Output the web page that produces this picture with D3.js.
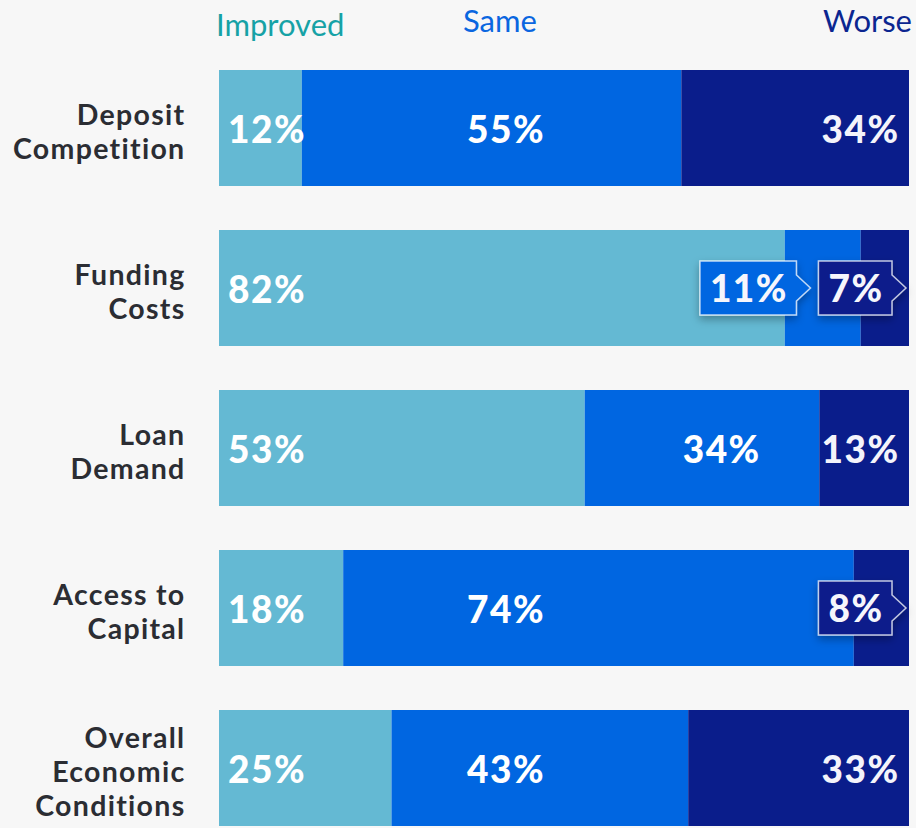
<!DOCTYPE html>
<html>
<head>
<meta charset="utf-8">
<script src="https://cdn.jsdelivr.net/npm/d3@7"></script>
<style>
  html, body { margin: 0; padding: 0; background: #f7f7f7; }
  svg { display: block; }
  text { font-family: Lato, "Open Sans", sans-serif; }
</style>
</head>
<body>
<svg id="chart" width="916" height="828"></svg>
<script>
// ---- data ----
const categories = ["Deposit\nCompetition", "Funding\nCosts", "Loan\nDemand", "Access to\nCapital", "Overall\nEconomic\nConditions"];
const seriesNames = ["Improved", "Same", "Worse"];
const improved = [12, 82, 53, 18, 25];
const same     = [55, 11, 34, 74, 43];
const worse    = [34,  7, 13,  8, 33];

// ---- styling ----
const W = 916, H = 828;
const barColors    = { Improved: "#64b9d3", Same: "#0066e1", Worse: "#0a1d8b" };
const legendColors = { Improved: "#16a2a6", Same: "#0a66e0", Worse: "#0b2690" };

const svg = d3.select("#chart");
svg.append("rect").attr("width", W).attr("height", H).attr("fill", "#f7f7f7");

const defs = svg.append("defs");
const f = defs.append("filter").attr("id", "shadow")
  .attr("x", "-30%").attr("y", "-30%").attr("width", "160%").attr("height", "170%");
f.append("feDropShadow").attr("dx", 0).attr("dy", 4).attr("stdDeviation", 4)
  .attr("flood-color", "#000").attr("flood-opacity", 0.3);

const rows = categories.map((c, i) => ({ cat: c, Improved: improved[i], Same: same[i], Worse: worse[i] }));

const x = d3.scaleLinear().domain([0, 100]).range([219, 909]);
const y = d3.scaleBand().domain(categories).range([70, 826]).paddingInner(0.275).paddingOuter(0);

const stacked = d3.stack().keys(seriesNames)(rows);
const xc = v => x(Math.min(v, 100));

// bars
const layers = svg.append("g").selectAll("g").data(stacked).join("g")
  .attr("fill", d => barColors[d.key]);
layers.selectAll("rect").data(d => d.map(s => ({ key: d.key, s }))).join("rect")
  .attr("x", d => xc(d.s[0]))
  .attr("y", d => y(d.s.data.cat))
  .attr("width", d => Math.max(0, xc(d.s[1]) - xc(d.s[0])))
  .attr("height", y.bandwidth());

// category labels
const catG = svg.append("g");
categories.forEach(c => {
  const lines = c.split("\n");
  const cy = y(c) + y.bandwidth() / 2;
  const t = catG.append("text")
    .attr("text-anchor", "end")
    .attr("font-size", 28.5)
    .attr("font-weight", 700)
    .attr("letter-spacing", 1.3)
    .attr("fill", "#2b2d33");
  lines.forEach((ln, k) => {
    t.append("tspan").attr("x", 185.5)
      .attr("y", cy - (lines.length - 1) * 34 / 2 + 14 + k * 34)
      .text(ln);
  });
});

// legend headers
const legG = svg.append("g").attr("font-size", 31).attr("font-weight", 400);
legG.append("text").attr("x", 216).attr("y", 36).attr("fill", legendColors.Improved).text("Improved");
legG.append("text").attr("x", 463).attr("y", 32).attr("fill", legendColors.Same).text("Same");
legG.append("text").attr("x", 912).attr("y", 32).attr("text-anchor", "end").attr("fill", legendColors.Worse).text("Worse");

// value labels
const labG = svg.append("g");
const fs = 37;
const ls = 1.5;
const fw = 900;
const sameCol = 467;
const calloutMin = 80;

function valueText(sel) {
  return sel.attr("font-size", fs).attr("font-weight", fw).attr("letter-spacing", ls);
}

function callout(rightX, cy, label, fill) {
  const g = labG.append("g");
  const t = valueText(g.append("text")).attr("fill", "#f6f6fc").attr("y", cy + 14).text(label);
  const tw = t.node().getComputedTextLength() - ls;
  const pad = 10;
  const L = rightX - tw - 2 * pad, R = rightX, T = cy - 27, B = cy + 27;
  const path = `M${L},${T}H${R}V${cy - 13}L${R + 14},${cy}L${R},${cy + 13}V${B}H${L}Z`;
  g.insert("path", "text").attr("d", path).attr("fill", fill)
    .attr("stroke", "rgba(255,255,255,0.75)").attr("stroke-width", 1.5)
    .attr("filter", "url(#shadow)");
  t.attr("x", L + pad);
  return L;
}

rows.forEach((r, i) => {
  const cy = y(r.cat) + y.bandwidth() / 2;
  const sImp = stacked[0][i], sSame = stacked[1][i], sWorse = stacked[2][i];
  // Improved
  valueText(labG.append("text")).attr("x", xc(sImp[0]) + 9).attr("y", cy + 15)
    .attr("fill", "#ffffff").text(r.Improved + "%");
  // Worse
  let worseLeft = null;
  const worseW = xc(sWorse[1]) - xc(sWorse[0]);
  if (worseW < calloutMin) {
    worseLeft = callout(x(100) - 17, cy, r.Worse + "%", barColors.Worse);
  } else {
    valueText(labG.append("text")).attr("x", x(100) - 11 + ls).attr("y", cy + 15)
      .attr("text-anchor", "end").attr("fill", "#f4f4fb").text(r.Worse + "%");
  }
  // Same
  const sameW = xc(sSame[1]) - xc(sSame[0]);
  if (sameW < calloutMin) {
    const right = worseLeft !== null ? worseLeft - 22 : xc(sSame[1]) - 10;
    callout(right, cy, r.Same + "%", barColors.Same);
  } else {
    const impEnd = xc(sImp[1]);
    const sx = impEnd < sameCol ? sameCol : impEnd + 98;
    valueText(labG.append("text")).attr("x", sx).attr("y", cy + 15)
      .attr("fill", "#ffffff").text(r.Same + "%");
  }
});
</script>
</body>
</html>
